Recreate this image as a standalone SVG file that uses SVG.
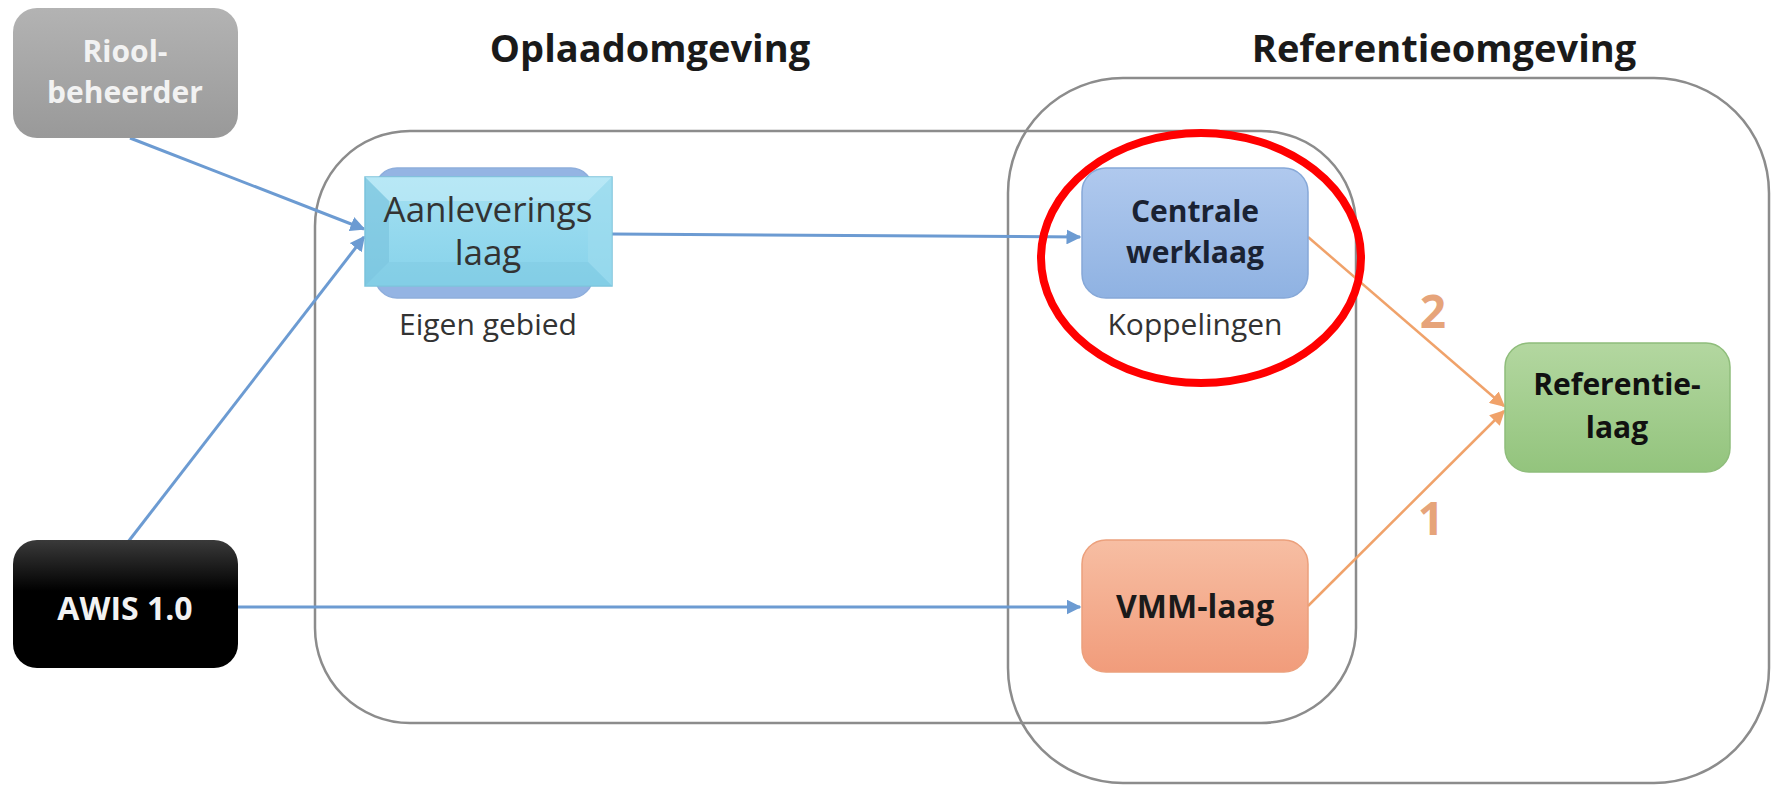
<svg xmlns="http://www.w3.org/2000/svg" width="1772" height="786" viewBox="0 0 1772 786">
<defs>
<style>
.t{font-family:"Open Sans","Liberation Sans",sans-serif;}
.b{font-family:"Open Sans","Liberation Sans",sans-serif;font-weight:bold;}
.title{font-family:"Open Sans","Liberation Sans",sans-serif;font-weight:bold;font-size:38px;fill:#1a1a1a;}
.blue{stroke:#6c9bd2;stroke-width:3;fill:none;}
.orange{stroke:#f0a26a;stroke-width:2.5;fill:none;}
.cont{fill:none;stroke:#8c8c8c;stroke-width:2.5;}
</style>
<linearGradient id="gGray" x1="0" y1="0" x2="0" y2="1"><stop offset="0" stop-color="#b3b3b3"/><stop offset="1" stop-color="#999"/></linearGradient>
<linearGradient id="gBlack" x1="0" y1="0" x2="0" y2="1"><stop offset="0" stop-color="#3a3a3a"/><stop offset="0.4" stop-color="#000"/><stop offset="1" stop-color="#000"/></linearGradient>
<linearGradient id="gBlue" x1="0" y1="0" x2="0" y2="1"><stop offset="0" stop-color="#b0c9ee"/><stop offset="1" stop-color="#8fb2e2"/></linearGradient>
<linearGradient id="gGreen" x1="0" y1="0" x2="0" y2="1"><stop offset="0" stop-color="#b3d7a0"/><stop offset="1" stop-color="#93c47d"/></linearGradient>
<linearGradient id="gSalmon" x1="0" y1="0" x2="0" y2="1"><stop offset="0" stop-color="#f7bea3"/><stop offset="1" stop-color="#f19c7b"/></linearGradient>
<linearGradient id="gAan" x1="0" y1="0" x2="0" y2="1"><stop offset="0" stop-color="#a4e0f2"/><stop offset="1" stop-color="#86d2ea"/></linearGradient>
<marker id="ab" viewBox="0 0 10 10" refX="9" refY="5" markerWidth="5" markerHeight="5" orient="auto" markerUnits="strokeWidth"><path d="M0,0 L10,5 L0,10 z" fill="#6c9bd2"/></marker>
<marker id="ao" viewBox="0 0 10 10" refX="9" refY="5" markerWidth="6" markerHeight="6" orient="auto" markerUnits="strokeWidth"><path d="M0,0 L10,5 L0,10 z" fill="#f0a26a"/></marker>
</defs>
<rect width="1772" height="786" fill="#fff"/>

<!-- containers -->
<rect id="oplaadomgeving" class="cont" x="315" y="131" width="1041" height="592" rx="95" ry="95"/>
<rect id="referentieomgeving" class="cont" x="1008" y="78" width="761" height="705" rx="115" ry="115"/>
<text class="title" x="650" y="62" text-anchor="middle">Oplaadomgeving</text>
<text class="title" x="1444" y="62" text-anchor="middle">Referentieomgeving</text>

<g id="connectors">
<line class="blue" x1="130" y1="138" x2="364" y2="229" marker-end="url(#ab)"/>
<line class="blue" x1="128" y1="542" x2="364" y2="237" marker-end="url(#ab)"/>
<line class="blue" x1="612" y1="234" x2="1080" y2="237" marker-end="url(#ab)"/>
<line class="blue" x1="238" y1="607" x2="1080" y2="607" marker-end="url(#ab)"/>
<line class="orange" x1="1308" y1="237" x2="1504" y2="406" marker-end="url(#ao)"/>
<line class="orange" x1="1308" y1="606" x2="1504" y2="411" marker-end="url(#ao)"/>
<text class="b" x="1433" y="328" font-size="46" fill="#e6a47a" text-anchor="middle">2</text>
<text class="b" x="1431" y="535" font-size="46" fill="#e6a47a" text-anchor="middle">1</text>
</g>

<g id="rioolbeheerder">
<rect x="13" y="8" width="225" height="130" rx="24" fill="url(#gGray)"/>
<text class="b" x="125" y="62" font-size="30" fill="#f2f2f2" text-anchor="middle">Riool-</text>
<text class="b" x="125" y="103" font-size="30" fill="#f2f2f2" text-anchor="middle">beheerder</text>
</g>

<g id="aanleveringslaag">
<rect x="375" y="168" width="218" height="130" rx="22" fill="#94b4e3" stroke="#8eaedc" stroke-width="1.5"/>
<rect x="365" y="177" width="247" height="109" fill="url(#gAan)" stroke="#7cc4dc" stroke-width="1.5"/>
<polygon points="365,177 612,177 588,201 389,201" fill="#c4ecf8" opacity="0.6"/>
<polygon points="365,177 389,201 389,262 365,286" fill="#78c2dc" opacity="0.6"/>
<polygon points="612,177 588,201 588,262 612,286" fill="#9edcef" opacity="0.6"/>
<polygon points="365,286 389,262 588,262 612,286" fill="#7fc9e2" opacity="0.5"/>
<text class="t" x="488" y="222" font-size="35" fill="#333" text-anchor="middle">Aanleverings</text>
<text class="t" x="488" y="265" font-size="35" fill="#333" text-anchor="middle">laag</text>
<text class="t" x="488" y="335" font-size="30" fill="#333" text-anchor="middle">Eigen gebied</text>
</g>

<g id="centralewerklaag">
<rect x="1082" y="168" width="226" height="130" rx="24" fill="url(#gBlue)" stroke="#86a8d8" stroke-width="1.5"/>
<text class="b" x="1195" y="222" font-size="30" fill="#1a2233" text-anchor="middle">Centrale</text>
<text class="b" x="1195" y="263" font-size="30" fill="#1a2233" text-anchor="middle">werklaag</text>
<text class="t" x="1195" y="335" font-size="30" fill="#333" text-anchor="middle">Koppelingen</text>
</g>

<g id="vmmlaag">
<rect x="1082" y="540" width="226" height="132" rx="24" fill="url(#gSalmon)" stroke="#eca07c" stroke-width="1.5"/>
<text class="b" x="1195" y="618" font-size="32" fill="#1a1a1a" text-anchor="middle">VMM-laag</text>
</g>

<g id="referentielaag">
<rect x="1505" y="343" width="225" height="129" rx="24" fill="url(#gGreen)" stroke="#8fbd7b" stroke-width="1.5"/>
<text class="b" x="1617" y="395" font-size="30" fill="#111" text-anchor="middle">Referentie-</text>
<text class="b" x="1617" y="438" font-size="30" fill="#111" text-anchor="middle">laag</text>
</g>

<g id="awis">
<rect x="13" y="540" width="225" height="128" rx="24" fill="url(#gBlack)"/>
<text class="b" x="125" y="620" font-size="32" fill="#f2f2f2" text-anchor="middle">AWIS 1.0</text>
</g>

<ellipse id="highlight" cx="1201" cy="258" rx="160" ry="125" fill="none" stroke="#ff0000" stroke-width="8"/>
</svg>
